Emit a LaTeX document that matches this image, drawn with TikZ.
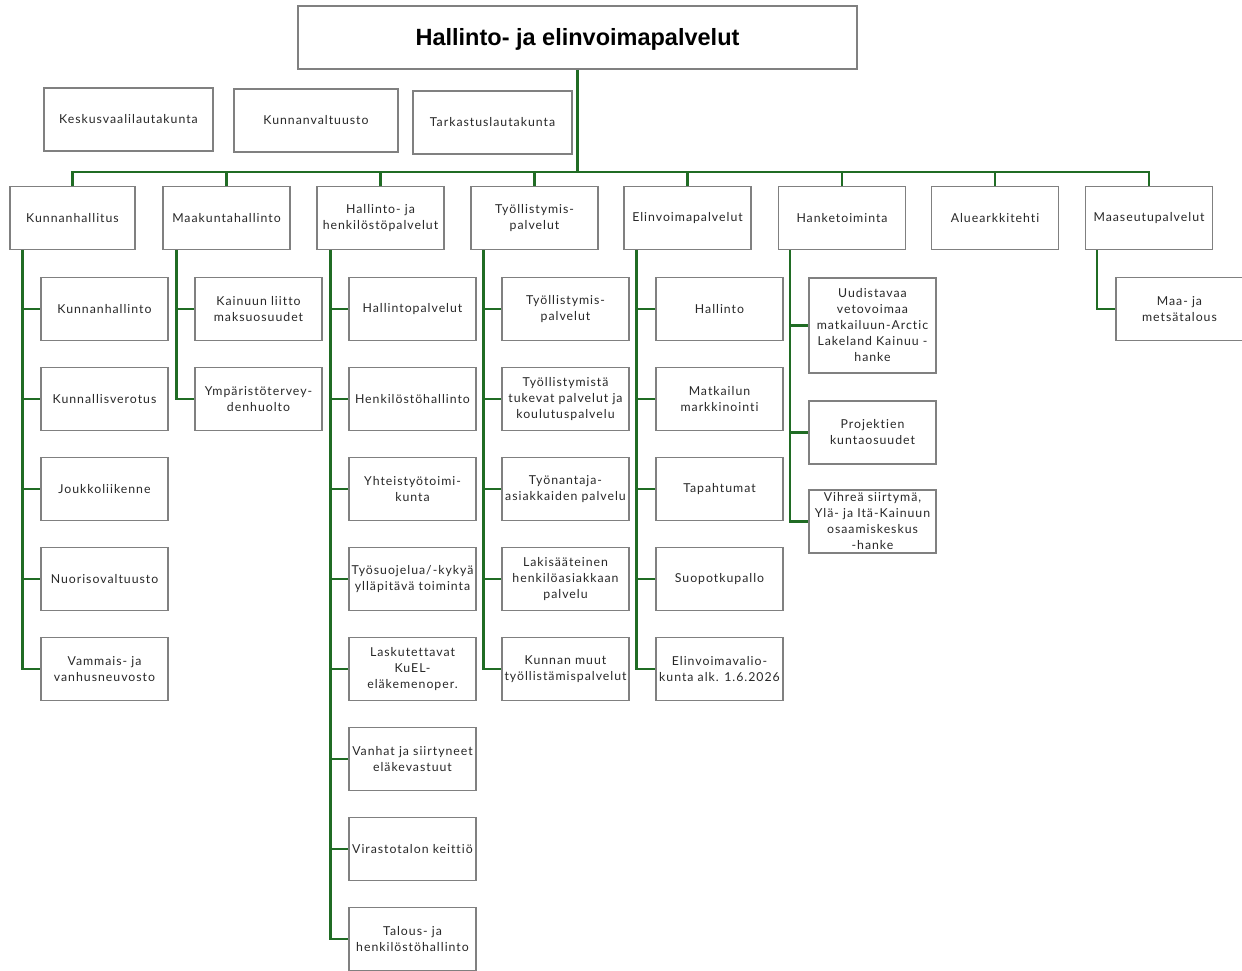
\documentclass[tikz,border=0pt]{standalone}
\usepackage{fontspec}
\setmainfont{Lato}[LetterSpace=8,Ligatures={NoCommon}]
\newfontfamily\titlefont{Liberation Sans}
\definecolor{linegreen}{RGB}{32,108,36}
\definecolor{boxgray}{RGB}{128,128,128}
\definecolor{txt}{RGB}{40,40,40}
\begin{document}
\begin{tikzpicture}[x=1pt,y=-1pt,
  box/.style={draw=boxgray,line width=1.1pt,fill=white,minimum width=127pt,minimum height=63pt,
    align=center,inner sep=1pt,text=txt,font=\fontsize{12.3}{16}\selectfont},
  conn/.style={draw=linegreen,line width=2.3pt},
]
\useasboundingbox (0,0) rectangle (1242,970);
\fill[white] (0,0) rectangle (1242,970);

% title and top boxes
\node[box,minimum width=559pt,text depth=2pt,font=\titlefont\fontsize{23.5}{26}\selectfont\bfseries,text=black] (top) at (577.5,37.5) {Hallinto- ja elinvoimapalvelut};
\node[box,minimum width=169pt] (kesk) at (128.5,119.5) {Keskusvaalilautakunta};
\node[box,minimum width=164pt] (kval) at (316,120.5) {Kunnanvaltuusto};
\node[box,minimum width=159pt] (tark) at (492.5,122.5) {Tarkastuslautakunta};

% level 1
\node[box,minimum width=125pt] (kh) at (72.5,218) {Kunnanhallitus};
\node[box] (mk) at (226.5,218) {Maakuntahallinto};
\node[box] (hh) at (380.5,218) {Hallinto- ja\\henkilöstöpalvelut};
\node[box] (ty) at (534.5,218) {Työllistymis-\\palvelut};
\node[box] (el) at (687.5,218) {Elinvoimapalvelut};
\node[box] (ha) at (842,218) {Hanketoiminta};
\node[box] (al) at (995,218) {Aluearkkitehti};
\node[box] (ms) at (1149,218) {Maaseutupalvelut};

\coordinate (bar) at (577.5,172);
\draw[conn] (top.south) -- (bar);
\foreach \n in {kh,mk,hh,ty,el,ha,al,ms} \draw[conn] (\n.north) |- (bar);

% Kunnanhallitus children
\node[box] (kh1) at (104.5,309) {Kunnanhallinto};
\node[box] (kh2) at (104.5,399) {Kunnallisverotus};
\node[box] (kh3) at (104.5,489) {Joukkoliikenne};
\node[box] (kh4) at (104.5,579) {Nuorisovaltuusto};
\node[box] (kh5) at (104.5,669) {Vammais- ja\\vanhusneuvosto};
\foreach \c in {kh1,kh2,kh3,kh4,kh5} \draw[conn] ([xshift=13pt]kh.south west) |- (\c.west);

% Maakuntahallinto children
\node[box] (mk1) at (258.5,309) {Kainuun liitto\\maksuosuudet};
\node[box] (mk2) at (258.5,399) {Ympäristötervey-\\denhuolto};
\foreach \c in {mk1,mk2} \draw[conn] ([xshift=14pt]mk.south west) |- (\c.west);

% Hallinto- ja henkilöstöpalvelut children
\node[box] (hh1) at (412.5,309) {Hallintopalvelut};
\node[box] (hh2) at (412.5,399) {Henkilöstöhallinto};
\node[box] (hh3) at (412.5,489) {Yhteistyötoimi-\\kunta};
\node[box] (hh4) at (412.5,579) {Työsuojelua/-kykyä\\ylläpitävä toiminta};
\node[box] (hh5) at (412.5,669) {Laskutettavat\\KuEL-\\eläkemenoper.};
\node[box] (hh6) at (412.5,759) {Vanhat ja siirtyneet\\eläkevastuut};
\node[box] (hh7) at (412.5,849) {Virastotalon keittiö};
\node[box] (hh8) at (412.5,939) {Talous- ja\\henkilöstöhallinto};
\foreach \c in {hh1,hh2,hh3,hh4,hh5,hh6,hh7,hh8} \draw[conn] ([xshift=14pt]hh.south west) |- (\c.west);

% Työllistymispalvelut children
\node[box] (ty1) at (565.5,309) {Työllistymis-\\palvelut};
\node[box] (ty2) at (565.5,399) {Työllistymistä\\tukevat palvelut ja\\koulutuspalvelu};
\node[box] (ty3) at (565.5,489) {Työnantaja-\\asiakkaiden palvelu};
\node[box] (ty4) at (565.5,579) {Lakisääteinen\\henkilöasiakkaan\\palvelu};
\node[box] (ty5) at (565.5,669) {Kunnan muut\\työllistämispalvelut};
\foreach \c in {ty1,ty2,ty3,ty4,ty5} \draw[conn] ([xshift=13pt]ty.south west) |- (\c.west);

% Elinvoimapalvelut children
\node[box] (el1) at (719.5,309) {Hallinto};
\node[box] (el2) at (719.5,399) {Matkailun\\markkinointi};
\node[box] (el3) at (719.5,489) {Tapahtumat};
\node[box] (el4) at (719.5,579) {Suopotkupallo};
\node[box] (el5) at (719.5,669) {Elinvoimavalio-\\kunta alk. 1.6.2026};
\foreach \c in {el1,el2,el3,el4,el5} \draw[conn] ([xshift=13pt]el.south west) |- (\c.west);

% Hanketoiminta children
\node[box,minimum height=95pt] (ha1) at (872.5,325.5) {Uudistavaa\\vetovoimaa\\matkailuun-Arctic\\Lakeland Kainuu -\\hanke};
\node[box] (ha2) at (872.5,432.5) {Projektien\\kuntaosuudet};
\node[box] (ha3) at (872.5,521.5) {Vihreä siirtymä,\\Ylä- ja Itä-Kainuun\\osaamiskeskus\\-hanke};
\foreach \c in {ha1,ha2,ha3} \draw[conn] ([xshift=12pt]ha.south west) |- (\c.west);

% Maaseutupalvelut children
\node[box] (ms1) at (1179.5,309) {Maa- ja\\metsätalous};
\draw[conn] ([xshift=12pt]ms.south west) |- (ms1.west);
\end{tikzpicture}
\end{document}
